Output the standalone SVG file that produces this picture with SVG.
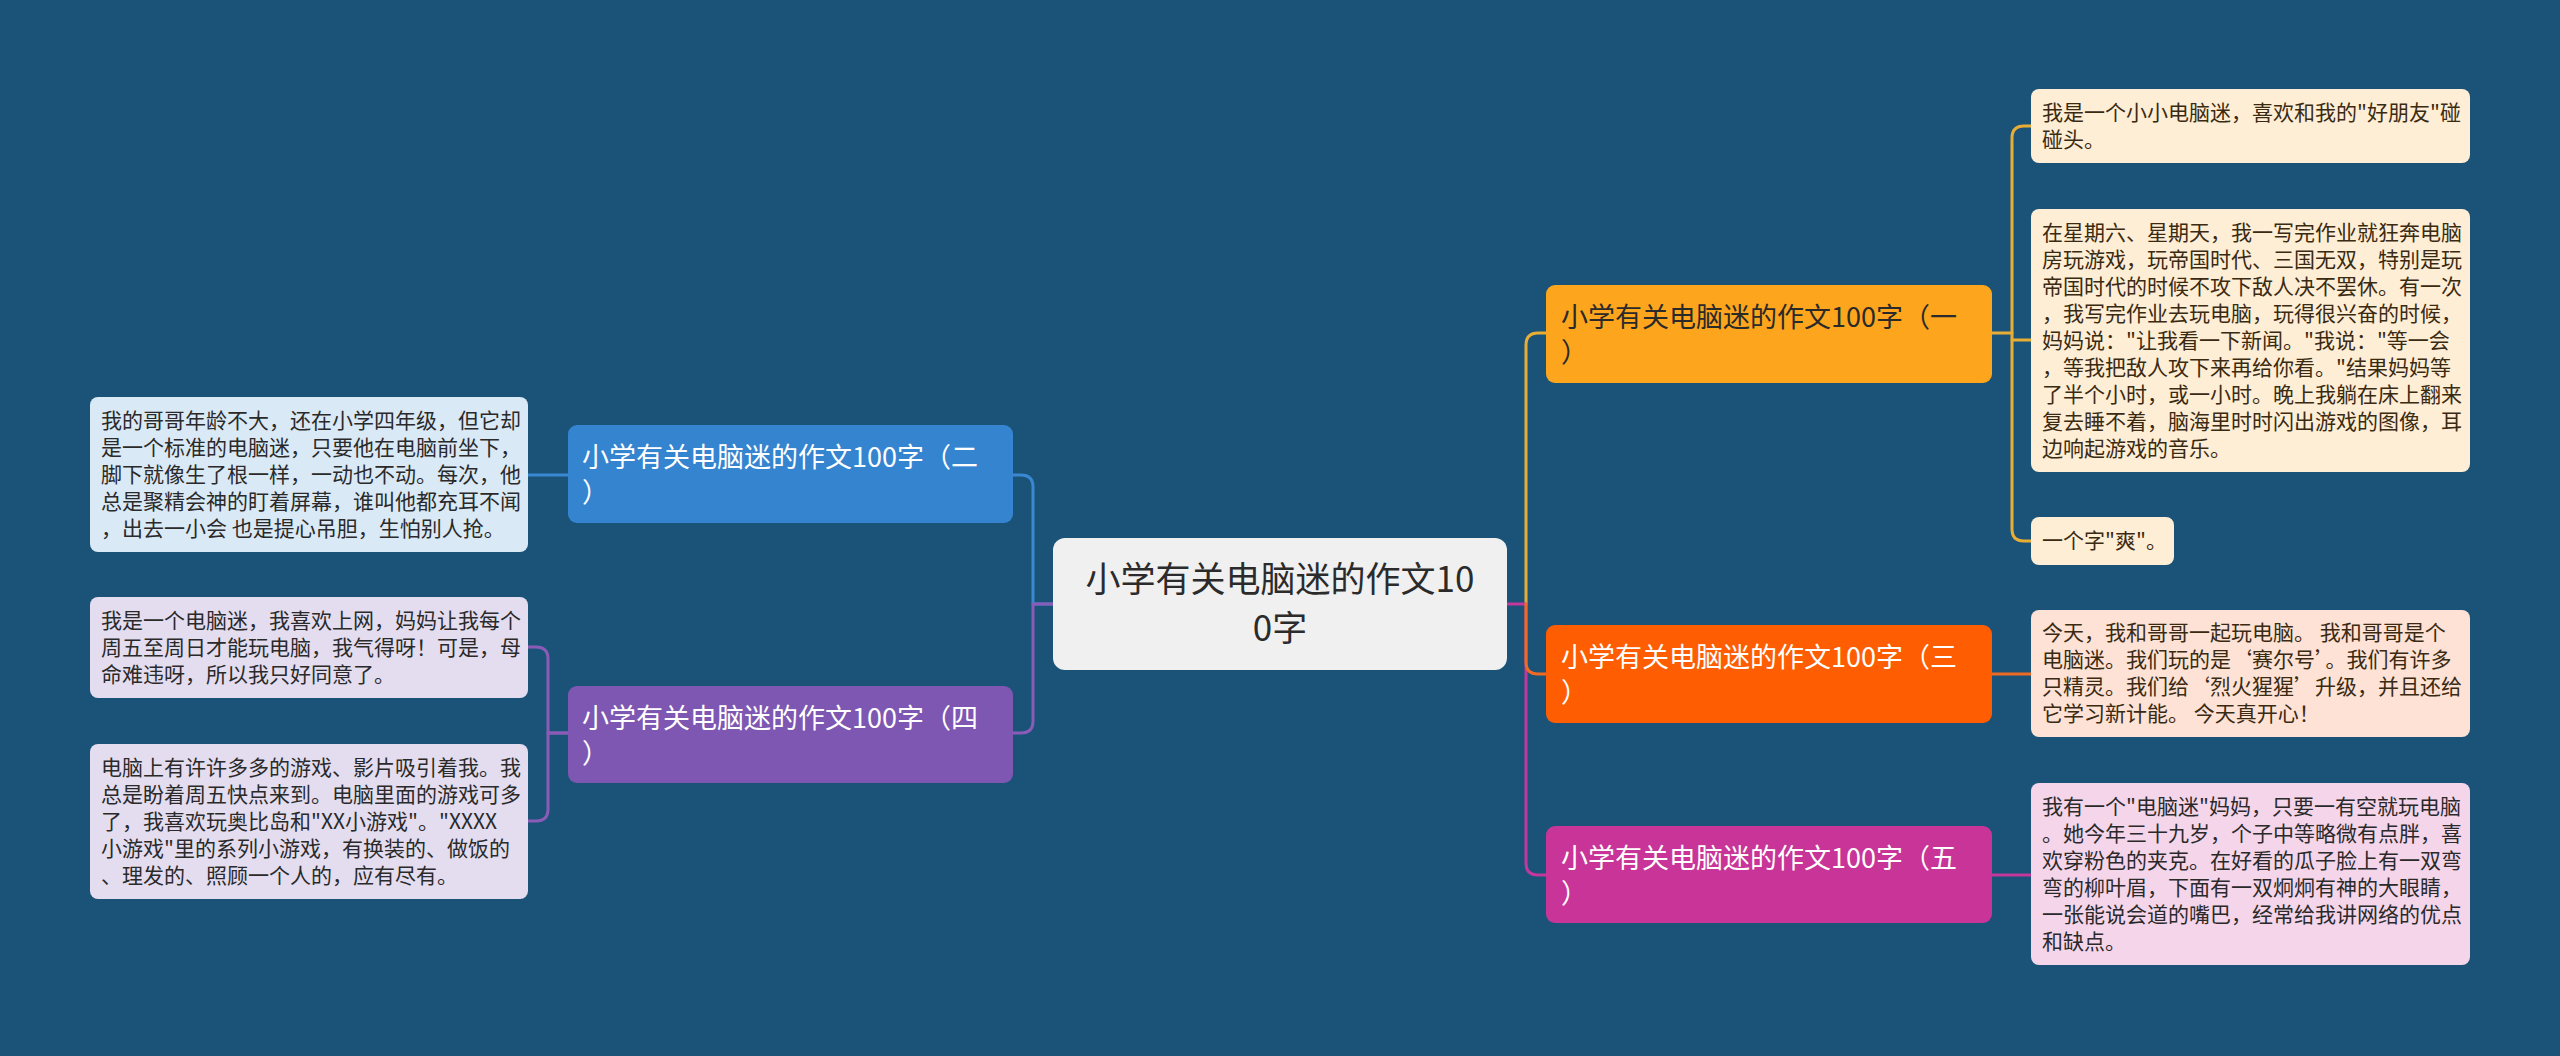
<svg xmlns="http://www.w3.org/2000/svg" width="2560" height="1056" viewBox="0 0 2560 1056">
<style>
text{font-family:"Noto Sans CJK SC","Noto Sans",sans-serif;}
.leaf{font-size:21px;}
.br{font-size:27px;}
.wt{fill:#ffffff;}
.dk{fill:#2a2a2a;}
.ld{fill:#3a2a12;}
.cn{fill:none;stroke-width:3;stroke-linecap:round;stroke-linejoin:round;}
</style>
<rect x="0" y="0" width="2560" height="1056" fill="#1b5378"/>
<g id="connectors">
<path class="cn" stroke="#e8ad34" d="M1526,604 V345 Q1526,333 1538,333 H1546"/>
<path class="cn" stroke="#c4389c" d="M1507,604 H1526 V863 Q1526,875 1538,875 H1546"/>
<path class="cn" stroke="#ef6a22" d="M1526,604 V662 Q1526,674 1538,674 H1546"/>
<path class="cn" stroke="#3a88d2" d="M1053,604 H1033 V487 Q1033,475 1021,475 H1013"/>
<path class="cn" stroke="#8a5cb8" d="M1053,604 H1033 V721 Q1033,733 1021,733 H1013"/>
<path class="cn" stroke="#3a88d2" d="M568,475 H528"/>
<path class="cn" stroke="#8a5cb8" d="M568,733 H548 V659 Q548,647 536,647 H528"/>
<path class="cn" stroke="#8a5cb8" d="M568,733 H548 V809 Q548,821 536,821 H528"/>
<path class="cn" stroke="#e8ad34" d="M1992,333 H2012 V138 Q2012,126 2024,126 H2031"/>
<path class="cn" stroke="#e8ad34" d="M2012,333 V340 H2031"/>
<path class="cn" stroke="#e8ad34" d="M2012,340 V529 Q2012,541 2024,541 H2031"/>
<path class="cn" stroke="#ef6a22" d="M1992,674 H2031"/>
<path class="cn" stroke="#c4389c" d="M1992,875 H2031"/>
</g>
<g id="center">
<rect x="1053" y="538" width="454" height="132" rx="12" fill="#f0f0f0"/>
<text x="1280" y="592" font-size="35" text-anchor="middle" fill="#2b2b2b">小学有关电脑迷的作文10</text>
<text x="1280" y="641" font-size="35" text-anchor="middle" fill="#2b2b2b">0字</text>
</g>
<g id="b1">
<rect x="1546" y="285" width="446" height="98" rx="9" fill="#fda61d"/>
<text class="br dk"><tspan x="1561" y="327">小学有关电脑迷的作文100字（一</tspan><tspan x="1561" y="362">）</tspan></text>
</g>
<g id="b3">
<rect x="1546" y="625" width="446" height="98" rx="9" fill="#fe5d02"/>
<text class="br wt"><tspan x="1561" y="667">小学有关电脑迷的作文100字（三</tspan><tspan x="1561" y="702">）</tspan></text>
</g>
<g id="b5">
<rect x="1546" y="826" width="446" height="97" rx="9" fill="#c83497"/>
<text class="br wt"><tspan x="1561" y="868">小学有关电脑迷的作文100字（五</tspan><tspan x="1561" y="903">）</tspan></text>
</g>
<g id="b2">
<rect x="568" y="425" width="445" height="98" rx="9" fill="#3584d0"/>
<text class="br wt"><tspan x="582" y="467">小学有关电脑迷的作文100字（二</tspan><tspan x="582" y="502">）</tspan></text>
</g>
<g id="b4">
<rect x="568" y="686" width="445" height="97" rx="9" fill="#7d57b1"/>
<text class="br wt"><tspan x="582" y="728">小学有关电脑迷的作文100字（四</tspan><tspan x="582" y="763">）</tspan></text>
</g>
<g id="l2a">
<rect x="90" y="397" width="438" height="155" rx="8" fill="#dae9f6"/>
<text class="leaf dk"><tspan x="101" y="428">我的哥哥年龄不大，还在小学四年级，但它却</tspan><tspan x="101" y="455">是一个标准的电脑迷，只要他在电脑前坐下，</tspan><tspan x="101" y="482">脚下就像生了根一样，一动也不动。每次，他</tspan><tspan x="101" y="509">总是聚精会神的盯着屏幕，谁叫他都充耳不闻</tspan><tspan x="101" y="536">，出去一小会 也是提心吊胆，生怕别人抢。</tspan></text>
</g>
<g id="l4a">
<rect x="90" y="597" width="438" height="101" rx="8" fill="#e4ddf0"/>
<text class="leaf dk"><tspan x="101" y="628">我是一个电脑迷，我喜欢上网，妈妈让我每个</tspan><tspan x="101" y="655">周五至周日才能玩电脑，我气得呀！可是，母</tspan><tspan x="101" y="682">命难违呀，所以我只好同意了。</tspan></text>
</g>
<g id="l4b">
<rect x="90" y="744" width="438" height="155" rx="8" fill="#e4ddf0"/>
<text class="leaf dk"><tspan x="101" y="775">电脑上有许许多多的游戏、影片吸引着我。我</tspan><tspan x="101" y="802">总是盼着周五快点来到。电脑里面的游戏可多</tspan><tspan x="101" y="829">了，我喜欢玩奥比岛和"XX小游戏"。"XXXX</tspan><tspan x="101" y="856">小游戏"里的系列小游戏，有换装的、做饭的</tspan><tspan x="101" y="883">、理发的、照顾一个人的，应有尽有。</tspan></text>
</g>
<g id="l1a">
<rect x="2031" y="89" width="439" height="74" rx="8" fill="#feeed5"/>
<text class="leaf ld"><tspan x="2042" y="120">我是一个小小电脑迷，喜欢和我的"好朋友"碰</tspan><tspan x="2042" y="147">碰头。</tspan></text>
</g>
<g id="l1b">
<rect x="2031" y="209" width="439" height="263" rx="8" fill="#feeed5"/>
<text class="leaf ld"><tspan x="2042" y="240">在星期六、星期天，我一写完作业就狂奔电脑</tspan><tspan x="2042" y="267">房玩游戏，玩帝国时代、三国无双，特别是玩</tspan><tspan x="2042" y="294">帝国时代的时候不攻下敌人决不罢休。有一次</tspan><tspan x="2042" y="321">，我写完作业去玩电脑，玩得很兴奋的时候，</tspan><tspan x="2042" y="348">妈妈说："让我看一下新闻。"我说："等一会</tspan><tspan x="2042" y="375">，等我把敌人攻下来再给你看。"结果妈妈等</tspan><tspan x="2042" y="402">了半个小时，或一小时。晚上我躺在床上翻来</tspan><tspan x="2042" y="429">复去睡不着，脑海里时时闪出游戏的图像，耳</tspan><tspan x="2042" y="456">边响起游戏的音乐。</tspan></text>
</g>
<g id="l1c">
<rect x="2031" y="517" width="143" height="48" rx="8" fill="#feeed5"/>
<text class="leaf ld"><tspan x="2042" y="548">一个字"爽"。</tspan></text>
</g>
<g id="l3a">
<rect x="2031" y="610" width="439" height="127" rx="8" fill="#fde2d5"/>
<text class="leaf ld"><tspan x="2042" y="640">今天，我和哥哥一起玩电脑。 我和哥哥是个</tspan><tspan x="2042" y="667">电脑迷。我们玩的是‘赛尔号’。我们有许多</tspan><tspan x="2042" y="694">只精灵。我们给‘烈火猩猩’升级，并且还给</tspan><tspan x="2042" y="721">它学习新计能。 今天真开心！</tspan></text>
</g>
<g id="l5a">
<rect x="2031" y="783" width="439" height="182" rx="8" fill="#f5d5ea"/>
<text class="leaf dk"><tspan x="2042" y="814">我有一个"电脑迷"妈妈，只要一有空就玩电脑</tspan><tspan x="2042" y="841">。她今年三十九岁，个子中等略微有点胖，喜</tspan><tspan x="2042" y="868">欢穿粉色的夹克。在好看的瓜子脸上有一双弯</tspan><tspan x="2042" y="895">弯的柳叶眉，下面有一双炯炯有神的大眼睛，</tspan><tspan x="2042" y="922">一张能说会道的嘴巴，经常给我讲网络的优点</tspan><tspan x="2042" y="949">和缺点。</tspan></text>
</g>
</svg>
